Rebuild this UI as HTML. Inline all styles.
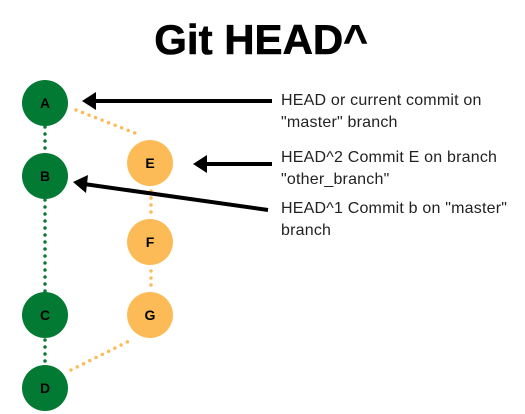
<!DOCTYPE html>
<html><head><style>
html,body{margin:0;padding:0;background:#fff;}
body{width:525px;height:414px;position:relative;overflow:hidden;font-family:"Liberation Sans",sans-serif;}
.t{position:absolute;font-size:16px;color:#222;line-height:22px;left:281px;letter-spacing:0.2px;}
</style></head><body>
<svg width="525" height="414" style="position:absolute;left:0;top:0">
<text x="261" y="54" text-anchor="middle" font-family="Liberation Sans" font-weight="bold" font-size="42" fill="#000" stroke="#000" stroke-width="0.6">Git HEAD^</text>
<g stroke="#0a7a35" stroke-width="3.5" stroke-linecap="round" stroke-dasharray="0 7">
<line x1="45" y1="127" x2="45" y2="153"/>
<line x1="45" y1="200" x2="45" y2="292"/>
<line x1="45" y1="340" x2="45" y2="364"/>
</g>
<g stroke="#fdbb57" stroke-width="3.5" stroke-linecap="round" stroke-dasharray="0 7">
<line x1="76" y1="110" x2="135" y2="133"/>
<line x1="151" y1="191" x2="151" y2="214"/>
<line x1="151" y1="271" x2="151" y2="287"/>
<line x1="71" y1="370" x2="133" y2="339"/>
</g>
<g font-family="Liberation Sans" font-weight="bold" font-size="14" text-anchor="middle">
<circle cx="45" cy="103" r="23" fill="#037a34"/><text x="45" y="108">A</text>
<circle cx="45" cy="176" r="23" fill="#037a34"/><text x="45" y="181">B</text>
<circle cx="45" cy="315" r="23" fill="#037a34"/><text x="45" y="320">C</text>
<circle cx="45" cy="388" r="23" fill="#037a34"/><text x="45" y="393">D</text>
<circle cx="150" cy="163" r="23" fill="#fdbb57"/><text x="150" y="168">E</text>
<circle cx="150" cy="242" r="23" fill="#fdbb57"/><text x="150" y="247">F</text>
<circle cx="150" cy="315" r="23" fill="#fdbb57"/><text x="150" y="320">G</text>
</g>
<g stroke="#000" stroke-width="4" fill="#000">
<line x1="92" y1="101" x2="272" y2="101"/>
<polygon points="82,101 96,92 96,110" stroke="none"/>
<line x1="203" y1="164" x2="272" y2="164"/>
<polygon points="193,164 207,155 207,173" stroke="none"/>
<line x1="84" y1="184" x2="268" y2="210"/>
<polygon points="73,182 88,175 86,193" stroke="none"/>
</g>
</svg>
<div class="t" style="top:90px">HEAD or current commit on<br>"master" branch</div>
<div class="t" style="top:147px">HEAD^2 Commit E on branch<br>"other_branch"</div>
<div class="t" style="top:198px">HEAD^1 Commit b on "master"<br>branch</div>
</body></html>
